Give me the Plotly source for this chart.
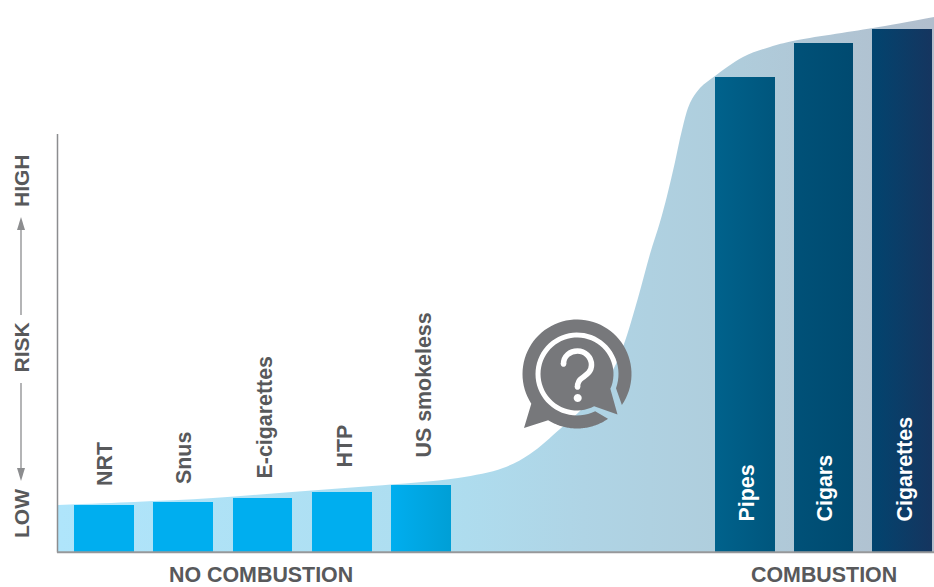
import math
import plotly.graph_objects as go

# Relative risk by product, in plot units above the baseline
products = ["NRT", "Snus", "E-cigarettes", "HTP", "US smokeless", "Pipes", "Cigars", "Cigarettes"]
risk = [47, 50, 54, 60, 67, 475, 509, 523]

# Risk continuum behind the bars
curve_x = [58, 134, 213, 292, 372, 458, 503, 530, 560, 583, 600, 613, 624, 638, 650, 660,
           667, 675, 682, 690, 700, 715, 743, 770, 793, 873, 934]
curve_y = [47, 50, 54, 60, 66, 74, 84, 98, 123, 144, 163, 182, 208, 254, 298, 330,
           356, 390, 422, 449, 464, 476, 495, 505, 511, 524, 535]

bar_left = [74, 153, 233, 312, 391, 715, 794, 872]
bar_right = [134, 213, 292, 372, 451, 775, 853, 932]
bar_from = ["#00AEEF", "#00AEEF", "#00AEEF", "#00AEEF", "#00AEEF", "#00628C", "#005178", "#02446F"]
bar_to = ["#00AEEF", "#00AEEF", "#00AEEF", "#00AEEF", "#009FD6", "#00567D", "#004A70", "#15355F"]

label_x = [105, 184, 264, 344, 423, 746, 824, 904]
label_base = [65, 67, 72, 83, 93, 29, 29, 29]
label_color = ["#58595B"] * 5 + ["#FFFFFF"] * 3

BASE = 552
GREY = "#77787B"
TEXT = "#58595B"
FONT = "Liberation Sans"
CX, CY = 577, 374


def up(py):
    return BASE - py


def arc(r, a0, a1, n=60):
    pts = []
    for i in range(n + 1):
        a = math.radians(a0 + (a1 - a0) * i / n)
        pts.append((CX + r * math.cos(a), CY + r * math.sin(a)))
    return pts


def to_path(pts):
    return "M" + "L".join(f"{x:.2f},{up(y):.2f}" for x, y in pts) + "Z"


def dot(x, y, r):
    pts = [(x + r * math.cos(t / 24 * 2 * math.pi), y + r * math.sin(t / 24 * 2 * math.pi)) for t in range(24)]
    return to_path(pts)


fig = go.Figure()

fig.add_trace(go.Scatter(
    x=curve_x, y=curve_y, mode="lines", line=dict(width=0, shape="spline", smoothing=1),
    fill="tozeroy",
    fillgradient=dict(type="horizontal", colorscale=[
        [0, "#AFE5FB"], [0.45, "#AEDDEF"], [0.6, "#AFD4E5"], [0.75, "#AFCEDD"], [1, "#B1BECD"]]),
    hoverinfo="skip", showlegend=False,
))

for name, value, x0, x1, c0, c1 in zip(products, risk, bar_left, bar_right, bar_from, bar_to):
    fig.add_trace(go.Scatter(
        x=[x0, x1], y=[value, value], mode="lines", line=dict(width=0), name=name,
        fill="tozeroy",
        fillgradient=dict(type="horizontal", colorscale=[[0, c0], [1, c1]]),
        showlegend=False,
    ))

shapes = [
    dict(type="line", x0=57.5, x1=57.5, y0=up(134), y1=up(552.5), line=dict(color="#8C8D8F", width=1.5)),
    dict(type="line", x0=57, x1=934, y0=up(552.3), y1=up(552.3), line=dict(color="#97989A", width=2)),
    # Risk arrows beside the axis
    dict(type="line", x0=21, x1=21, y0=up(228), y1=up(315), line=dict(color="#8C8D8F", width=1.3)),
    dict(type="line", x0=21, x1=21, y0=up(383), y1=up(470), line=dict(color="#8C8D8F", width=1.3)),
    dict(type="path", path=to_path([(21, 217), (17, 230), (25, 230)]), fillcolor="#8C8D8F", line_width=0),
    dict(type="path", path=to_path([(21, 481), (17, 468), (25, 468)]), fillcolor="#8C8D8F", line_width=0),
    # Speech-bubble rim with its lower-left tail, open at the lower right
    dict(type="path", line_width=0, fillcolor=GREY, path=to_path(
        arc(54.5, 34.6, -213) + [(524, 428)] + arc(54.5, -238, -304.6) + arc(41.5, 64, 380))),
    # Inner bubble with its lower-right tail
    dict(type="path", line_width=0, fillcolor=GREY, path=to_path(
        arc(36.5, 62, 384) + [(617.5, 414.5)])),
    # Question mark
    dict(type="path", line=dict(color="#FFFFFF", width=5.5),
         path=f"M563.5,{up(364)}C563.5,{up(356)} 570,{up(351)} 577.5,{up(351)}"
              f"C585,{up(351)} 591.5,{up(357)} 591.5,{up(365)}"
              f"C591.5,{up(372)} 586,{up(375)} 582,{up(378)}"
              f"C579,{up(380)} 577.5,{up(382)} 577.5,{up(387)}"),
    dict(type="path", line_width=0, fillcolor="#FFFFFF", path=dot(563.5, 364, 2.75)),
    dict(type="path", line_width=0, fillcolor="#FFFFFF", path=dot(577.5, 387, 2.75)),
    dict(type="path", line_width=0, fillcolor="#FFFFFF", path=dot(577.7, 398, 4)),
]

annotations = []
for name, x, y, color in zip(products, label_x, label_base, label_color):
    annotations.append(dict(x=x, y=y, text=f"<b>{name}</b>", textangle=-90, showarrow=False,
                            xanchor="center", yanchor="bottom", borderpad=0,
                            font=dict(family=FONT, size=21.4, color=color)))
for text, y in [("LOW", up(514)), ("RISK", up(347.5)), ("HIGH", up(181))]:
    annotations.append(dict(x=21, y=y, text=f"<b>{text}</b>", textangle=-90, showarrow=False,
                            xanchor="center", yanchor="middle", borderpad=0,
                            font=dict(family=FONT, size=21, color=TEXT)))
for text, x in [("NO COMBUSTION", 260.5), ("COMBUSTION", 824)]:
    annotations.append(dict(x=x, y=up(586), yshift=-1.5, text=f"<b>{text}</b>", showarrow=False,
                            xanchor="center", yanchor="bottom", borderpad=0,
                            font=dict(family=FONT, size=21.4, color=TEXT)))

fig.update_layout(
    width=934, height=587, margin=dict(l=0, r=0, t=0, b=0),
    paper_bgcolor="#FFFFFF", plot_bgcolor="#FFFFFF",
    shapes=shapes, annotations=annotations,
    xaxis=dict(range=[0, 934], visible=False, fixedrange=True),
    yaxis=dict(range=[up(587), up(0)], visible=False, fixedrange=True),
)

fig.write_html("out.html", config=dict(displayModeBar=False))
